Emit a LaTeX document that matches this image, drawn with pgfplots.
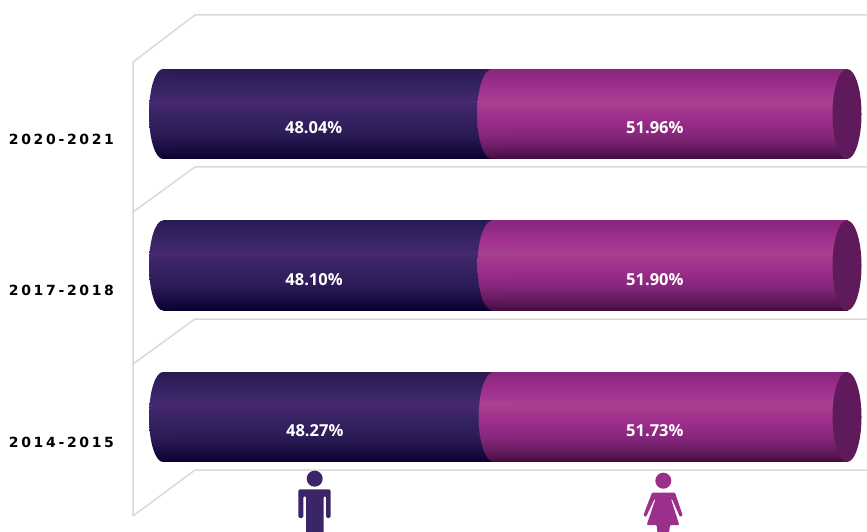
\documentclass[border=0pt]{standalone}
\usepackage{pgfplots}
\pgfplotsset{compat=1.18}
\usepackage{fontspec}
\setmainfont{Open Sans}
\newfontfamily\lab[LetterSpace=19]{DejaVu Sans}
\definecolor{wallgrey}{HTML}{D9D9D9}
\definecolor{manc}{HTML}{3B2468}
\definecolor{womanc}{HTML}{9A2F8C}
\definecolor{capc}{HTML}{5F1A5C}
\definecolor{da}{RGB}{10,0,46}
\definecolor{db}{RGB}{24,10,64}
\definecolor{dc}{RGB}{42,26,84}
\definecolor{dd}{RGB}{56,36,100}
\definecolor{de}{RGB}{70,40,112}
\definecolor{ma}{RGB}{64,12,60}
\definecolor{mb}{RGB}{96,24,92}
\definecolor{mc}{RGB}{132,38,122}
\definecolor{md}{RGB}{158,46,140}
\definecolor{me}{RGB}{168,65,146}
\definecolor{mf}{RGB}{160,48,142}
\definecolor{mg}{RGB}{136,38,124}
\pgfdeclareverticalshading{darkbar}{100bp}{color(0bp)=(da);
 color(25bp)=(da); color(30bp)=(db); color(38bp)=(dc); color(50bp)=(dd);
 color(57bp)=(de); color(64bp)=(dd); color(75bp)=(dc); color(100bp)=(dc)}
\pgfdeclareverticalshading{magbar}{100bp}{color(0bp)=(ma);
 color(25bp)=(ma); color(30bp)=(mb); color(38bp)=(mc); color(48bp)=(md);
 color(57bp)=(me); color(65bp)=(mf); color(75bp)=(mg); color(100bp)=(mg)}
\pgfdeclareplotmark{barleft}{\pgfpathellipse{\pgfpointorigin}{\pgfqpoint{14pt}{0pt}}{\pgfqpoint{0pt}{45pt}}\pgfshadepath{darkbar}{0}\pgfusepath{discard}}
\pgfdeclareplotmark{barseam}{\pgfpathellipse{\pgfpointorigin}{\pgfqpoint{15pt}{0pt}}{\pgfqpoint{0pt}{45pt}}\pgfshadepath{magbar}{0}\pgfusepath{discard}}
\pgfdeclareplotmark{barright}{\pgftransformxshift{-1pt}\pgfpathellipse{\pgfpointorigin}{\pgfqpoint{14.5pt}{0pt}}{\pgfqpoint{0pt}{45pt}}\pgfsetfillcolor{capc}\pgfusepath{fill}}
\begin{document}
\begin{tikzpicture}
\useasboundingbox (0,0) rectangle (867pt,531pt);
\begin{scope}[x=1pt,y=-1pt,yshift=531pt,wallgrey,line width=1.5pt,line join=round]
\draw (867,15) -- (195,15) -- (133,62) -- (133,516) -- (195,470) -- (867,470);
\draw (133,212) -- (195,167) -- (867,167);
\draw (133,364) -- (195,319) -- (867,319);
\end{scope}
\pgfplotsset{base/.style={at={(0,0)},anchor=south west,scale only axis,width=867pt,height=531pt,
  xmin=-23.796,xmax=102.774,ymin=-0.7525,ymax=2.7525,clip=false},
  barrow/.style={base,hide axis,xbar stacked,bar width=89.5pt}}
\begin{axis}[base,
  axis line style={draw=none},tick style={draw=none},xtick=\empty,
  ytick={0,1,2},yticklabels={2014-2015,2017-2018,2020-2021},
  y tick label style={font=\lab\bfseries\fontsize{14}{14}\selectfont,black,anchor=east,xshift=117.5pt,yshift=-25pt}]
\addplot[draw=none,mark=none] coordinates {(0,0) (0,2)};
\end{axis}
\begin{axis}[barrow]
\addplot[draw=none,shading=darkbar] coordinates {(48.27,0)};
\addplot[draw=none,shading=magbar] coordinates {(51.73,0)};
\end{axis}
\begin{axis}[barrow]
\addplot[draw=none,shading=darkbar] coordinates {(48.10,1)};
\addplot[draw=none,shading=magbar] coordinates {(51.90,1)};
\end{axis}
\begin{axis}[barrow]
\addplot[draw=none,shading=darkbar] coordinates {(48.04,2)};
\addplot[draw=none,shading=magbar] coordinates {(51.96,2)};
\end{axis}
\begin{axis}[base,hide axis]
\addplot[draw=none,mark=barleft] coordinates {(0,0) (0,1) (0,2)};
\addplot[draw=none,mark=barseam] coordinates {(48.27,0) (48.10,1) (48.04,2)};
\addplot[draw=none,mark=barright] coordinates {(100,0) (100,1) (100,2)};
\addplot[draw=none,mark=none,point meta=explicit symbolic,
  nodes near coords,
  every node near coord/.style={anchor=center,yshift=-14pt,text=white,font=\bfseries\fontsize{16.5}{16.5}\selectfont}]
  coordinates {(22.15,0)[48.27\%] (22.05,1)[48.10\%] (22.0,2)[48.04\%]
    (71.8,0)[51.73\%] (71.8,1)[51.90\%] (71.8,2)[51.96\%]};
\end{axis}
\begin{scope}[x=1pt,y=-1pt,yshift=531pt]
\clip (0,0) rectangle (867,531);
\fill[manc] (314.7,478.7) circle [radius=8];
\fill[manc,rounded corners=1.5pt] (298.3,518) -- (298.3,489.3) -- (330.7,489.3) -- (330.7,518) -- (326,518) -- (326,496) -- (323.5,496) -- (323.5,540) -- (306,540) -- (306,496) -- (303.3,496) -- (303.3,518) -- cycle;
\fill[womanc] (663.3,480.7) circle [radius=8];
\fill[womanc,rounded corners=1pt] (652,492.7) -- (675,492.7) -- (682.7,515.5) -- (680,517) -- (672,499) -- (671,499) -- (679.3,525) -- (670,525) -- (668,540) -- (658,540) -- (656.7,525) -- (646.7,525) -- (655.5,499) -- (654.5,499) -- (646,517) -- (643.3,515.5) -- cycle;
\end{scope}
\end{tikzpicture}
\end{document}
